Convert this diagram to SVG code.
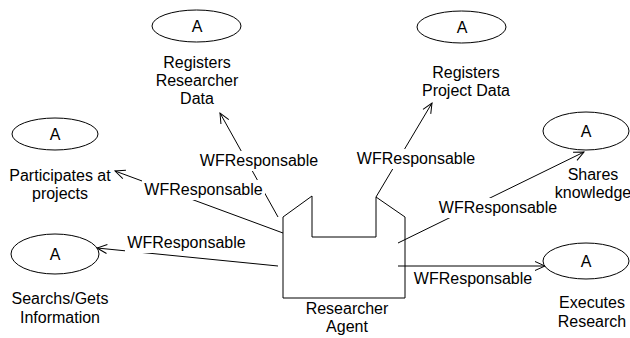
<svg xmlns="http://www.w3.org/2000/svg" width="630" height="338" viewBox="0 0 630 338">
  <style>
    text { font-family: "Liberation Sans", Arial, sans-serif; font-size: 16px; fill: #000; text-anchor: middle; }
    .shape { fill: #fff; stroke: #000; stroke-width: 1; }
    .agent { fill: none; stroke: #000; stroke-width: 1; }
    .edge { fill: none; stroke: #000; stroke-width: 1; marker-end: url(#open); }
    .lblbg { fill: #fff; stroke: none; }
  </style>
  <defs>
    <marker id="open" markerUnits="userSpaceOnUse" markerWidth="14" markerHeight="12" refX="0" refY="0" viewBox="-12 -6 14 12" orient="auto">
      <path d="M-10,-4.5 L0,0 L-10,4.5" fill="none" stroke="#000" stroke-width="1"/>
    </marker>
  </defs>
  <rect width="630" height="338" fill="#fff"/>

  <!-- agent outline (open fill, so edges starting inside it stay visible) -->
  <g id="researcher-agent">
    <path class="agent" d="M283,298 L283,217 L312,196 L312,237 L376,237 L376,197 L405,217 L405,298 Z"/>
    <text x="347" y="314">Researcher</text>
    <text x="347" y="332">Agent</text>
  </g>

  <!-- connectors; white label boxes mask the lines behind them -->
  <g id="connectors">
    <line class="edge" x1="278" y1="217" x2="220" y2="113"/>
    <line class="edge" x1="376" y1="197" x2="432" y2="103"/>
    <line class="edge" x1="283" y1="233" x2="115" y2="171"/>
    <line class="edge" x1="278" y1="266" x2="97" y2="248"/>
    <line class="edge" x1="398" y1="243" x2="584" y2="152"/>
    <line class="edge" x1="398" y1="266" x2="545" y2="266"/>
    <g id="edge-labels">
      <rect class="lblbg" x="198" y="151" width="122" height="20"/>
      <text x="259" y="166">WFResponsable</text>
      <rect class="lblbg" x="355" y="149" width="122" height="20"/>
      <text x="416" y="164">WFResponsable</text>
      <rect class="lblbg" x="142" y="180" width="123" height="20"/>
      <text x="203.5" y="195">WFResponsable</text>
      <rect class="lblbg" x="125" y="233" width="123" height="20"/>
      <text x="186.5" y="248">WFResponsable</text>
      <rect class="lblbg" x="437" y="198" width="123" height="20"/>
      <text x="498" y="213">WFResponsable</text>
      <text x="473" y="284">WFResponsable</text>
    </g>
  </g>

  <!-- activities -->
  <g id="registers-researcher-data">
    <ellipse class="shape" cx="196.5" cy="26" rx="44.5" ry="16"/>
    <text x="197" y="32">A</text>
    <text x="197" y="68">Registers</text>
    <text x="197" y="86">Researcher</text>
    <text x="197" y="104">Data</text>
  </g>
  <g id="registers-project-data">
    <ellipse class="shape" cx="461.5" cy="27" rx="44.5" ry="16"/>
    <text x="462" y="33">A</text>
    <text x="466" y="78">Registers</text>
    <text x="466" y="96">Project Data</text>
  </g>
  <g id="participates-at-projects">
    <ellipse class="shape" cx="55" cy="134" rx="43" ry="16"/>
    <text x="55" y="140">A</text>
    <text x="60" y="181">Participates at</text>
    <text x="60" y="199">projects</text>
  </g>
  <g id="searchs-gets-information">
    <ellipse class="shape" cx="55" cy="254" rx="44" ry="20"/>
    <text x="55" y="260">A</text>
    <text x="60" y="304">Searchs/Gets</text>
    <text x="60" y="323">Information</text>
  </g>
  <g id="shares-knowledge">
    <ellipse class="shape" cx="586" cy="131" rx="43" ry="19"/>
    <text x="586" y="137">A</text>
    <text x="593" y="180">Shares</text>
    <text x="593" y="198">knowledge</text>
  </g>
  <g id="executes-research">
    <ellipse class="shape" cx="586" cy="261" rx="43" ry="18"/>
    <text x="586" y="267">A</text>
    <text x="592" y="308">Executes</text>
    <text x="592" y="327">Research</text>
  </g>
</svg>
